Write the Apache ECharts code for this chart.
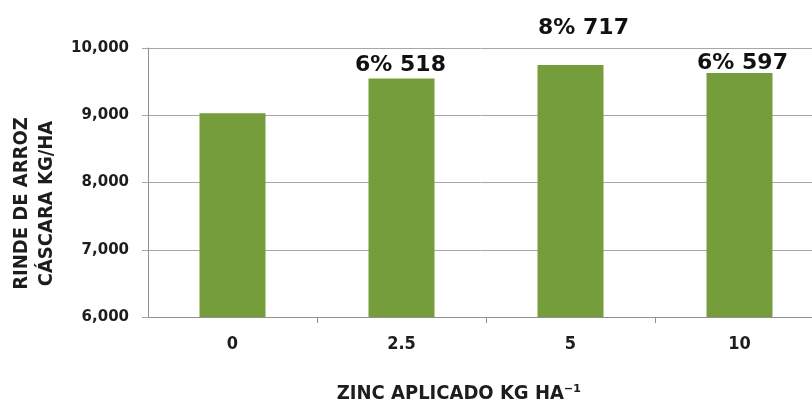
<!DOCTYPE html>
<html>
<head>
<meta charset="utf-8">
<style>
  html, body { margin: 0; padding: 0; background: #ffffff; }
  #chart { width: 812px; height: 403px; }
</style>
<script src="https://cdn.jsdelivr.net/npm/echarts@6/dist/echarts.min.js"></script>
</head>
<body>
<div id="chart"></div>
<script>
// Zinc rate applied (kg/ha) and paddy rice yield (kg/ha)
const categories = ['0', '2.5', '5', '10'];
const yields = [9030, 9548, 9747, 9627];
// Relative yield gain over the control, as printed above each bar
const gainPct = ['', '6%', '8%', '6%'];
const yMin = 6000, yMax = 10000, yStep = 1000;

const narrow = '"Liberation Sans Narrow", "DejaVu Sans Condensed", "Arial Narrow", sans-serif';
const wide = '"DejaVu Sans", Verdana, sans-serif';
const textColor = '#1d1d1d';
const gridColor = '#a6a6a6';
const axisColor = '#8f8f8f';
const barColor = '#769d3b';

// label nudges per bar (layout only)
const labelShift = [[0, 0], [-1, 1], [13, -23], [3, 4]];

const base = yields[0];
const barData = yields.map((v, i) => ({
  value: v,
  label: { offset: labelShift[i] }
}));

const chart = echarts.init(document.getElementById('chart'));
chart.setOption({
  animation: false,
  backgroundColor: '#ffffff',
  grid: { left: 148, top: 48, width: 676, height: 269, outerBoundsMode: 'none', containLabel: false },
  xAxis: {
    type: 'category',
    data: categories,
    axisLine: { lineStyle: { color: axisColor, width: 1 } },
    // separators between categories only, none at the y-axis corner
    axisTick: {
      show: true, length: 6, lineStyle: { color: axisColor },
      interval: (index) => index !== 0
    },
    axisLabel: {
      color: textColor, fontFamily: narrow, fontWeight: 'bold', fontSize: 18, margin: 18
    },
    name: 'ZINC APLICADO KG HA\u207B\u00B9',
    nameLocation: 'middle',
    nameGap: 67,
    nameTextStyle: {
      color: textColor, fontFamily: narrow, fontSize: 20, fontWeight: 'bold',
      padding: [0, 54, 0, 0]
    }
  },
  yAxis: {
    type: 'value',
    min: yMin, max: yMax, interval: yStep,
    axisLine: { show: true, lineStyle: { color: axisColor, width: 1 } },
    axisTick: { show: true, length: 6, lineStyle: { color: gridColor } },
    splitLine: { show: true, lineStyle: { color: gridColor, width: 1 } },
    axisLabel: {
      color: textColor, fontFamily: wide, fontWeight: 'bold', fontSize: 15, margin: 19,
      formatter: v => v.toLocaleString('en-US')
    },
    name: 'RINDE DE ARROZ\nCÁSCARA KG/HA',
    nameLocation: 'middle',
    nameRotate: 90,
    nameGap: 89,
    nameTextStyle: {
      color: textColor, fontFamily: narrow, fontSize: 20, fontWeight: 'bold',
      lineHeight: 25, align: 'center', padding: [0, 42, 0, 0]
    }
  },
  series: [{
    type: 'bar',
    data: barData,
    barWidth: 66,
    itemStyle: { color: barColor },
    label: {
      show: true,
      position: 'top',
      distance: 3,
      color: '#111111',
      fontFamily: wide,
      fontWeight: 'bold',
      fontSize: 22,
      formatter: p => p.dataIndex === 0 ? '' : gainPct[p.dataIndex] + ' ' + (p.value - base)
    }
  }]
});
</script>
</body>
</html>
